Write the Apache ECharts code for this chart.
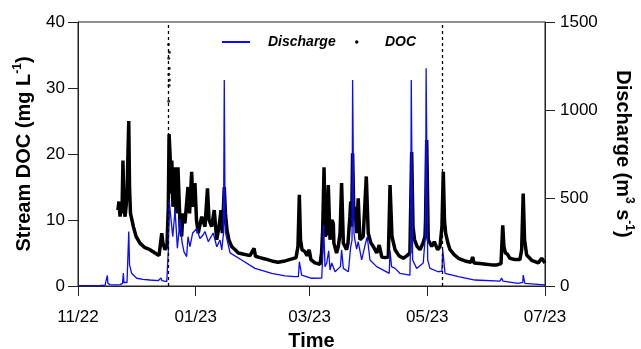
<!DOCTYPE html>
<html><head><meta charset="utf-8">
<script src="https://cdn.jsdelivr.net/npm/echarts@6/dist/echarts.min.js"></script>
<style>html,body{margin:0;padding:0;background:#fff}#c{width:641px;height:349px}</style>
</head><body><div id="c"></div>
<script>
// x values are days since 2022-11-01
const tickDays = [0, 61, 120, 181, 242];
const tickLabels = ['11/22', '01/23', '03/23', '05/23', '07/23'];
const markerDays = [46.8, 188.8];

const docDays = [20.7,21.2,21.8,22.3,22.8,23.3,23.8,24.4,24.9,25.4,26.3,26.7,27.2,28.7,30.1,32.1,34.7,37.3,39.9,42.0,43.4,44.0,45.1,46.1,46.8,47.2,47.7,48.2,48.6,49.2,50.3,50.8,51.8,52.9,53.7,54.4,55.4,57.0,57.8,58.9,59.6,60.6,61.4,62.3,64.1,65.8,67.1,67.9,69.3,70.6,71.9,73.1,74.1,74.8,75.8,76.4,77.2,78.2,79.6,81.4,83.1,86.0,89.1,91.2,92.0,94.3,96.9,100.4,103.6,107.3,110.9,113.0,114.0,114.7,115.3,116.1,117.6,118.7,119.8,120.7,122.8,125.4,126.2,126.8,127.5,128.1,128.9,129.7,130.6,131.5,132.3,132.6,134.0,134.9,135.8,136.6,137.5,139.2,139.9,140.9,141.3,141.8,142.3,143.0,143.5,144.4,145.2,146.1,147.8,149.4,150.4,151.8,153.0,154.8,156.1,157.4,159.1,160.8,161.7,162.7,164.3,166.3,168.6,170.5,172.0,172.9,173.6,174.4,175.7,177.2,178.8,179.8,180.1,180.7,181.5,183.3,184.6,186.4,187.6,188.6,189.3,189.9,190.5,191.7,192.8,194.8,197.1,200.5,203.6,204.5,205.2,208.3,211.4,214.4,217.1,219.2,220.1,220.7,221.5,222.6,223.8,226.4,229.0,229.9,230.7,231.4,232.5,235.1,238.5,240.3,242.0];
const docValues = [11.5,12.8,10.5,12.5,11,19,12,10.5,12,14,25,15,11,9,7.5,6.5,5.8,5.5,5.0,4.6,8.0,6.5,5.5,6,12,23,20,14,19,12,18,11,18,9,7.5,11,9.5,15,11,17.3,12,15.6,10,8,10.5,9,14.8,10,9,11.5,7,9,11.5,8,15,11,8.5,7,6,5.5,5,4.8,4.6,5.7,4.5,4.3,4.1,3.8,3.6,3.8,4.1,4.3,6,13.8,7,5.5,5.2,4.6,5.5,4.0,3.5,3.3,5,8.5,18,7.5,8,15.3,7,10,9.5,6.5,5,6,8,15.6,6.5,5.5,6.5,10.5,12.8,9,20.1,10,12,8,13.3,7,7.5,16.6,8,6.5,6,5,6.2,4.4,4.3,4.4,15.3,7.5,5.5,4.6,4.2,4.6,5,20.3,9,7,6,5.5,6.5,7.5,10,22.1,7,6,6.7,5.5,6,9,17.3,10,8,6.5,5.5,4.8,4.2,3.8,3.6,4.4,3.5,3.4,3.3,3.2,3.2,3.4,9.2,6,5,4.8,4.2,4.0,4.0,5.5,14,7,4.7,3.9,3.5,4.2,3.5];

const docSparseDays = [46.9,47.4,47.0,47.3,47.1,47.4,47.2,47.0];
const docSparseValues = [36.6,35.4,34.5,33.0,32.1,31.2,30.4,28.0];

const qDays = [0,11.4,14.0,14.8,15.2,15.5,16.6,19.2,21.8,23.1,23.5,23.8,25.4,26.3,26.7,27.8,30.4,33.7,37.3,41.5,42.5,43.0,43.5,46.0,46.5,46.8,47.2,48.2,49.1,50.3,51.5,52.9,53.9,54.9,56.3,57.0,58.0,59.4,61.5,63.2,64.8,65.8,67.5,68.4,70.1,71.9,73.6,74.5,75.4,75.8,76.2,76.5,78.8,84.8,91.7,100.4,107.3,112.4,114.2,114.7,115.9,121.1,126.3,126.8,127.3,128.0,128.9,129.9,130.6,131.5,133.2,136.0,136.6,137.5,140.1,141.3,142.0,142.3,143.0,143.5,144.4,145.2,147.0,148.7,149.9,151.3,154.8,156.5,161.3,161.7,162.5,164.3,166.8,172.0,172.4,172.7,173.4,175.5,178.9,180.1,180.4,181.2,182.4,186.7,188.6,189.0,190.2,197.1,205.7,218.7,219.5,220.2,228.1,230.5,230.7,231.6,242.0];
const qValues = [2,3,4,8,60,15,8,6,8,15,73,20,20,309,120,72,44,38,34,30,32,45,30,25,30,200,489,479,280,432,215,380,250,195,167,280,223,301,325,270,290,310,252,244,301,223,261,205,300,1170,400,301,188,148,100,72,58,53,53,138,62,44,45,167,347,110,131,200,91,131,81,110,205,100,81,223,260,1170,301,261,210,252,148,230,280,148,110,100,72,200,110,100,72,62,300,1170,148,100,131,300,1237,148,100,81,85,205,72,53,34,28,45,28,15,20,62,15,6];

const zip = (a, b) => a.map((v, i) => [v, b[i]]);
const FONT = 'Liberation Sans';
const legendText = {fontSize: 14, fontWeight: 'bold', fontStyle: 'italic', color: '#000', fontFamily: FONT};

const chart = echarts.init(document.getElementById('c'), null, {renderer: 'canvas'});
chart.setOption({
  animation: false,
  backgroundColor: '#fff',
  textStyle: {fontFamily: FONT},
  grid: {left: 78, right: 96, top: 22, bottom: 63, outerBoundsMode: 'none', containLabel: false,
         show: true, borderColor: '#222', borderWidth: 1, backgroundColor: 'transparent'},
  legend: [
    {data: [{name: 'Discharge', icon: 'rect'}], left: 217, top: 30, itemWidth: 28, itemHeight: 2,
     textStyle: Object.assign({padding: [0, 0, 0, 13]}, legendText)},
    {data: [{name: 'DOC', icon: 'circle'}], left: 350, top: 30, itemWidth: 3.5, itemHeight: 3.5,
     textStyle: Object.assign({padding: [0, 0, 0, 21.5]}, legendText)}
  ],
  xAxis: {
    type: 'value', min: 0, max: 242,
    name: 'Time', nameLocation: 'middle', nameGap: 45,
    nameTextStyle: {fontSize: 20, fontWeight: 'bold', color: '#000', fontFamily: FONT},
    axisLine: {lineStyle: {color: '#222', width: 1}},
    axisTick: {show: true, length: 10, customValues: tickDays, lineStyle: {color: '#222'}},
    axisLabel: {customValues: tickDays, margin: 23, fontSize: 17, color: '#000', fontFamily: FONT,
      formatter: v => tickLabels[tickDays.indexOf(v)] || ''},
    splitLine: {show: false}
  },
  yAxis: [
    {type: 'value', min: 0, max: 40, interval: 10, position: 'left',
     name: 'Stream DOC (mg L{sup|-1})', nameLocation: 'middle', nameGap: 42,
     nameTextStyle: {fontSize: 20, fontWeight: 'bold', color: '#000', fontFamily: FONT,
       rich: {sup: {fontSize: 12, fontWeight: 'bold', color: '#000', fontFamily: FONT, padding: [0, 0, 12, 0]}}},
     axisLine: {show: true, lineStyle: {color: '#222'}},
     axisTick: {show: true, length: 10, lineStyle: {color: '#222'}},
     axisLabel: {margin: 13, fontSize: 17, color: '#000', fontFamily: FONT, formatter: v => String(v)},
     splitLine: {show: false}},
    {type: 'value', min: 0, max: 1500, interval: 500, position: 'right',
     name: 'Discharge (m{sup|3} s{sup|-1})', nameLocation: 'middle', nameGap: 66, nameRotate: -90,
     nameTextStyle: {fontSize: 20, fontWeight: 'bold', color: '#000', fontFamily: FONT,
       rich: {sup: {fontSize: 12, fontWeight: 'bold', color: '#000', fontFamily: FONT, padding: [0, 0, 12, 0]}}},
     axisLine: {show: true, lineStyle: {color: '#222'}},
     axisTick: {show: true, length: 10, lineStyle: {color: '#222'}},
     axisLabel: {margin: 15, fontSize: 17, color: '#000', fontFamily: FONT, formatter: v => String(v)},
     splitLine: {show: false}}
  ],
  series: [
    {name: 'DOC', type: 'line', yAxisIndex: 0, data: zip(docDays, docValues), showSymbol: false, symbol: 'none',
     lineStyle: {color: '#000', width: 3.5}, itemStyle: {color: '#000'}, z: 2,
     markLine: {silent: true, symbol: 'none', label: {show: false},
       lineStyle: {color: '#000', type: [3, 3], width: 1.3},
       data: markerDays.map(d => ({xAxis: d}))}},
    {name: 'DOC', type: 'scatter', yAxisIndex: 0, data: zip(docSparseDays, docSparseValues),
     symbolSize: 3, itemStyle: {color: '#000'}, z: 2},
    {name: 'Discharge', type: 'line', yAxisIndex: 1, data: zip(qDays, qValues), showSymbol: false, symbol: 'none',
     lineStyle: {color: '#0a0aff', width: 1.3}, itemStyle: {color: '#0a0aff'}, z: 3}
  ]
});
</script></body></html>
